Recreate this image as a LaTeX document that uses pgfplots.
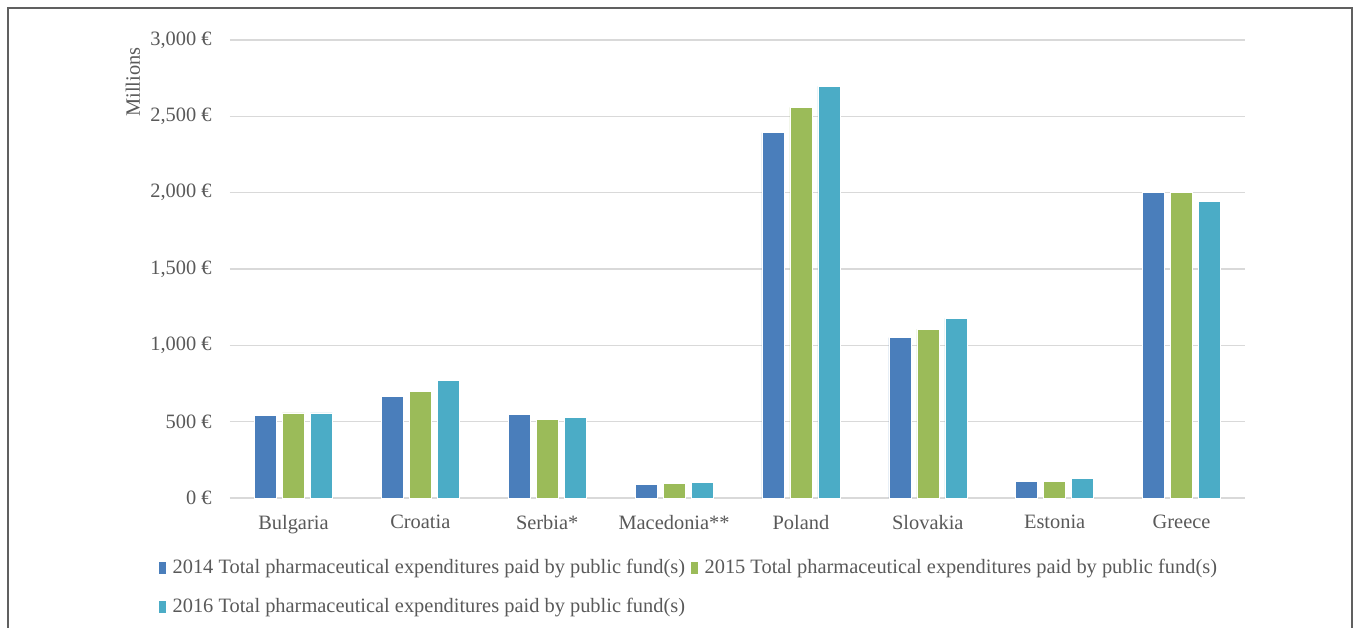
\documentclass[border=0pt]{standalone}
\usepackage{fontspec}
\setmainfont{Liberation Serif}
\usepackage{pgfplots}
\pgfplotsset{compat=1.18}

\definecolor{c2014}{HTML}{4A7EBB}
\definecolor{c2015}{HTML}{9BBB59}
\definecolor{c2016}{HTML}{4BACC6}
\definecolor{txt}{HTML}{595959}
\definecolor{gridc}{HTML}{D9D9D9}
\definecolor{framec}{HTML}{606060}
\newcommand\cf{\fontsize{10.2pt}{12pt}\selectfont}

\begin{document}
\begin{tikzpicture}
% page = 1360x627 px at 0.5pt per px, origin at the axis' lower left corner
\useasboundingbox (-115pt,-64.5pt) rectangle (565pt,249pt);
\draw[framec, line width=0.75pt] (-111pt,-70pt) -- (-111pt,245pt) -- (561pt,245pt) -- (561pt,-70pt);

\begin{axis}[
    at={(0pt,0pt)}, anchor=south west,
    scale only axis,
    width=507.5pt, height=229pt,
    ybar=3pt, bar width=11pt,
    xmin=-0.5, xmax=7.5,
    ymin=0, ymax=3000,
    xtick={0,...,7},
    xticklabels={Bulgaria,Croatia,Serbia*,Macedonia**,Poland,Slovakia,Estonia,Greece},
    ytick={0,500,...,3000},
    yticklabels={{0 €},{500 €},{1,000 €},{1,500 €},{2,000 €},{2,500 €},{3,000 €}},
    axis line style={draw=none},
    major tick length=0pt,
    ymajorgrids, grid style={gridc, line width=0.75pt},
    xticklabel style={font=\cf, text=txt, inner sep=0pt, yshift=-8.5pt},
    yticklabel style={font=\cf, text=txt, inner sep=0pt, xshift=-9pt},
    ylabel={Millions},
    ylabel style={font=\cf, text=txt, at={(axis description cs:0,0.908)}, anchor=center, yshift=48.5pt},
    legend style={draw=none, fill=none, font=\cf, text=txt,
        at={(axis description cs:-0.0709,-0.1332)}, anchor=north west,
        inner sep=0pt, outer sep=0pt, row sep=11pt,
        nodes={inner sep=0pt},
        /tikz/every odd column/.append style={column sep=3pt},
        /tikz/every even column/.append style={column sep=2.5pt}},
    legend columns=2,
    legend cell align=left,
    legend image code/.code={\fill[#1] (0pt,-3.2pt) rectangle (4pt,3.2pt);},
]
\addplot[fill=c2014, draw=white, line width=0.3pt] coordinates {
  (0,541) (1,664) (2,550) (3,90) (4,2393) (5,1050) (6,107) (7,2000)
};
\addplot[fill=c2015, draw=white, line width=0.3pt] coordinates {
  (0,557) (1,699) (2,517) (3,96) (4,2559) (5,1107) (6,109) (7,2000)
};
\addplot[fill=c2016, draw=white, line width=0.3pt] coordinates {
  (0,557) (1,771) (2,528) (3,100) (4,2697) (5,1177) (6,126) (7,1943)
};
\legend{2014 Total pharmaceutical expenditures paid by public fund(s),
        2015 Total pharmaceutical expenditures paid by public fund(s),
        2016 Total pharmaceutical expenditures paid by public fund(s)}
\end{axis}
\end{tikzpicture}
\end{document}
